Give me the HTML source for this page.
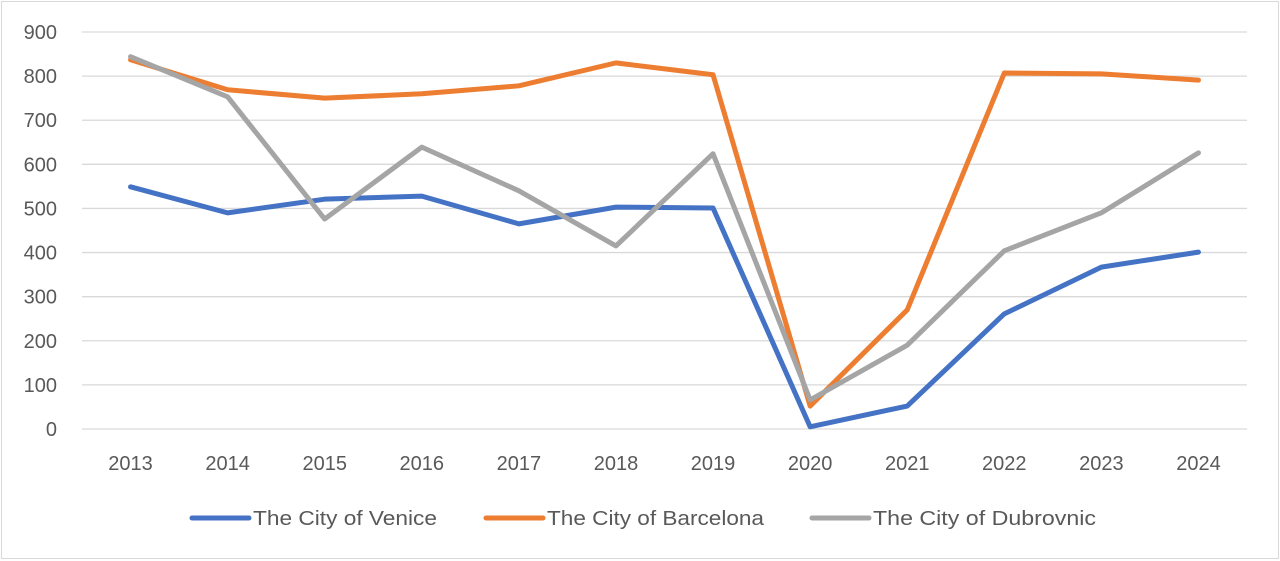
<!DOCTYPE html>
<html><head><meta charset="utf-8">
<style>
html,body{margin:0;padding:0;background:#fff;}
svg{display:block;font-family:"Liberation Sans",Calibri,sans-serif;}
</style></head>
<body>
<svg id="chart" width="1280" height="561">
<rect x="1.5" y="1.5" width="1277" height="557" fill="#fff" stroke="#d9d9d9" stroke-width="1"/>
<g id="grid"></g><g id="ylab"></g><g id="xlab"></g><g id="series"></g><g id="legend"></g>
</svg>
<script>
const categories=["2013","2014","2015","2016","2017","2018","2019","2020","2021","2022","2023","2024"];
const venice=[549,490,521,528,465,503,501,5,52,261,367,401];
const barcelona=[837,769,750,760,778,830,803,52,270,807,805,791];
const dubrovnic=[844,753,476,639,540,415,624,66,190,404,490,626];
const yTicks=[0,100,200,300,400,500,600,700,800,900];
const seriesNames=["The City of Venice","The City of Barcelona","The City of Dubrovnic"];
const colors=["#4472c4","#ed7d31","#a5a5a5"];
const NS="http://www.w3.org/2000/svg";
const L=82,R=1247,Y0=429,Y900=32;
const step=(R-L)/categories.length;
function x(i){return L+step*(i+0.5);}
function y(v){return Y0-(Y0-Y900)*v/900;}
function mk(t,a,p){const e=document.createElementNS(NS,t);for(const k in a)e.setAttribute(k,a[k]);p.appendChild(e);return e;}
const grid=document.getElementById('grid'),ylab=document.getElementById('ylab'),xlab=document.getElementById('xlab');
yTicks.forEach(v=>{
 const g=mk('line',{x1:L,x2:R,y1:y(v),y2:y(v),stroke:'#d9d9d9','stroke-width':1.3},grid);
 
 
 const t=mk('text',{x:57,y:y(v)+7,'text-anchor':'end','font-size':20,fill:'#595959'},ylab);
 t.textContent=v;
 
 
});
categories.forEach((c,i)=>{
 const t=mk('text',{x:x(i),y:470,'text-anchor':'middle','font-size':20,fill:'#595959'},xlab);
 t.textContent=c;
 
 
});
const sg=document.getElementById('series');
[venice,barcelona,dubrovnic].forEach((d,s)=>{
 const p=mk('polyline',{points:d.map((v,i)=>x(i)+','+y(v)).join(' '),fill:'none',stroke:colors[s],'stroke-width':5,'stroke-linejoin':'round','stroke-linecap':'round'},sg);
 
 
});
const lg=document.getElementById('legend');
const lx=[192,486,812];
const lw=[184,217,223];
seriesNames.forEach((n,s)=>{
 const l=mk('line',{x1:lx[s],x2:lx[s]+57,y1:518,y2:518,stroke:colors[s],'stroke-width':5,'stroke-linecap':'round'},lg);
 
 
 const t=mk('text',{x:lx[s]+61,y:525,'font-size':20,fill:'#595959',textLength:lw[s],lengthAdjust:'spacingAndGlyphs'},lg);
 t.textContent=n;
 
 
});
</script>
</body></html>
